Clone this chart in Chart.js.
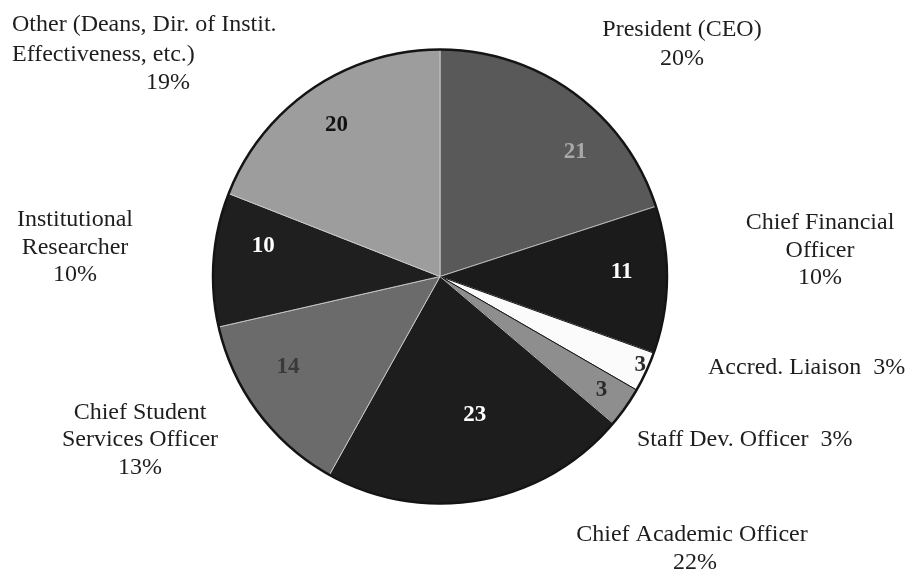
<!DOCTYPE html>
<html>
<head>
<meta charset="utf-8">
<script src="https://cdn.jsdelivr.net/npm/chart.js@4/dist/chart.umd.min.js"></script>
<style>
  html, body { margin: 0; padding: 0; background: #ffffff; }
  #wrap { width: 908px; height: 572px; position: relative; }
</style>
</head>
<body>
<div id="wrap"><canvas id="pie"></canvas></div>
<script>
// Respondent roles, clockwise from 12 o'clock
const categories = [
  'President (CEO)',
  'Chief Financial Officer',
  'Accred. Liaison',
  'Staff Dev. Officer',
  'Chief Academic Officer',
  'Chief Student Services Officer',
  'Institutional Researcher',
  'Other (Deans, Dir. of Instit. Effectiveness, etc.)'
];
// Number of respondents in each role
const counts = [21, 11, 3, 3, 23, 14, 10, 20];

// Slice fills and the colour of the count printed on each slice
const sliceFills  = ['#595959', '#1b1b1b', '#fbfbfb', '#8e8e8e', '#1d1d1d', '#6b6b6b', '#1f1f1f', '#9d9d9d'];
const sliceEdges  = ['#b8b8b8', '#b8b8b8', '#151515', '#151515', '#b8b8b8', '#c4c4c4', '#c4c4c4', '#c8c8c8'];
const countInk    = ['#a9a9a9', '#ffffff', '#2a2a2a', '#2a2a2a', '#ffffff', '#3a3a3a', '#ffffff', '#111111'];

// Where each count sits inside its slice: angular shift (deg, clockwise) and radius fraction
const countShiftDeg = [11.4, -2.2, -0.9, 0, -3.8, 6, 5.6, 0];
const countRadius   = [0.81, 0.80, 0.965, 0.87, 0.63, 0.78, 0.79, 0.81];

// Category caption lines: which category, line text, position, alignment
// '%' in a line stands for the computed share of that category
const captionLines = [
  { cat: 0, text: 'President (CEO)', x: 682, y: 30, align: 'center' },
  { cat: 0, text: '%',               x: 682, y: 59, align: 'center' },
  { cat: 1, text: 'Chief Financial', x: 820, y: 223, align: 'center' },
  { cat: 1, text: 'Officer',         x: 820, y: 251, align: 'center' },
  { cat: 1, text: '%',               x: 820, y: 278, align: 'center' },
  { cat: 2, text: 'Accred. Liaison  %', x: 708, y: 368, align: 'left' },
  { cat: 3, text: 'Staff Dev. Officer  %', x: 637, y: 440, align: 'left' },
  { cat: 4, text: 'Chief Academic Officer', x: 692, y: 535, align: 'center' },
  { cat: 4, text: '%',               x: 695, y: 563, align: 'center' },
  { cat: 5, text: 'Chief Student',   x: 140, y: 413, align: 'center' },
  { cat: 5, text: 'Services Officer', x: 140, y: 440, align: 'center' },
  { cat: 5, text: '%',               x: 140, y: 468, align: 'center' },
  { cat: 6, text: 'Institutional',   x: 75, y: 220, align: 'center' },
  { cat: 6, text: 'Researcher',      x: 75, y: 248, align: 'center' },
  { cat: 6, text: '%',               x: 75, y: 275, align: 'center' },
  { cat: 7, text: 'Other (Deans, Dir. of Instit.', x: 12, y: 25, align: 'left' },
  { cat: 7, text: 'Effectiveness, etc.)', x: 12, y: 55, align: 'left' },
  { cat: 7, text: '%',               x: 168, y: 83, align: 'center' }
];

const total = counts.reduce((a, b) => a + b, 0);
const shareText = i => Math.round(counts[i] / total * 100) + '%';

const pieDecorations = {
  id: 'pieDecorations',
  afterDatasetsDraw(chart) {
    const ctx = chart.ctx;
    const arcs = chart.getDatasetMeta(0).data;
    if (!arcs.length) return;
    const first = arcs[0];
    ctx.save();

    // dark rim around the pie
    ctx.beginPath();
    ctx.arc(first.x, first.y, first.outerRadius, 0, Math.PI * 2);
    ctx.lineWidth = 2.5;
    ctx.strokeStyle = '#141414';
    ctx.stroke();

    // counts inside slices
    ctx.font = 'bold 23px "Liberation Serif", "Times New Roman", serif';
    ctx.textAlign = 'center';
    ctx.textBaseline = 'middle';
    arcs.forEach((arc, i) => {
      const mid = (arc.startAngle + arc.endAngle) / 2 + countShiftDeg[i] * Math.PI / 180;
      const r = arc.outerRadius * countRadius[i];
      ctx.fillStyle = countInk[i];
      ctx.fillText(String(counts[i]), arc.x + Math.cos(mid) * r, arc.y + Math.sin(mid) * r);
    });

    // category captions with shares
    ctx.font = '24px "Liberation Serif", "Times New Roman", serif';
    ctx.fillStyle = '#1e1e1e';
    captionLines.forEach(line => {
      ctx.textAlign = line.align;
      ctx.fillText(line.text.replace('%', shareText(line.cat)), line.x, line.y);
    });
    ctx.restore();
  }
};

new Chart(document.getElementById('pie'), {
  type: 'pie',
  data: {
    labels: categories,
    datasets: [{
      data: counts,
      backgroundColor: sliceFills,
      borderColor: sliceEdges,
      borderWidth: 1
    }]
  },
  options: {
    responsive: true,
    maintainAspectRatio: false,
    animation: false,
    layout: { padding: { left: 0, right: 28, top: 49, bottom: 68 } },
    plugins: {
      legend: { display: false },
      tooltip: { enabled: false }
    }
  },
  plugins: [pieDecorations]
});
</script>
</body>
</html>
